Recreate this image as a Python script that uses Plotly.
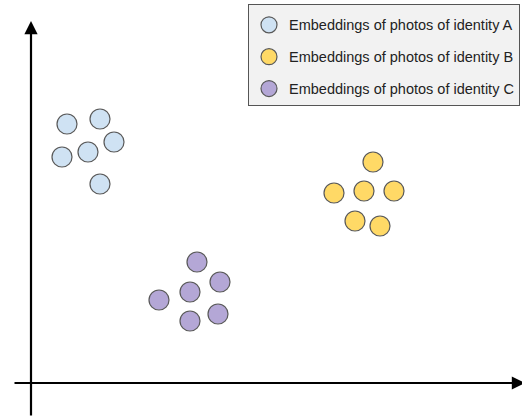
import plotly.graph_objects as go

# Data in chart coordinates (origin at axis crossing, units ~ pixels)
names = ["Embeddings of photos of identity A",
         "Embeddings of photos of identity B",
         "Embeddings of photos of identity C"]
a_x = [36, 69, 83, 57, 31, 69]
a_y = [259, 264, 241, 231, 226, 199]
b_x = [342, 303, 333, 363, 324, 349]
b_y = [221, 190, 192, 192, 162, 157]
c_x = [166, 189, 159, 128, 187, 159]
c_y = [121, 101, 91, 83, 69, 62]
colors = ["#cfe2f3", "#ffd966", "#b4a7d6"]

fig = go.Figure()
for i, (xs, ys) in enumerate([(a_x, a_y), (b_x, b_y), (c_x, c_y)]):
    fig.add_trace(go.Scatter(
        x=xs, y=ys, mode="markers", name=names[i], legendgroup=str(i),
        marker=dict(size=20, color=colors[i], line=dict(color="#595959", width=1.2)),
    ))

# Axes with arrows
fig.add_annotation(x=0, y=362, ax=0, ay=-34, xref="x", yref="y", axref="x", ayref="y",
                   showarrow=True, arrowhead=2, arrowsize=1.2, arrowwidth=2.2, arrowcolor="#000", text="")
fig.add_annotation(x=494, y=0, ax=-18, ay=0, xref="x", yref="y", axref="x", ayref="y",
                   showarrow=True, arrowhead=2, arrowsize=1.2, arrowwidth=2.2, arrowcolor="#000", text="")

fig.update_layout(
    width=522, height=417,
    margin=dict(l=0, r=0, t=0, b=0),
    plot_bgcolor="white", paper_bgcolor="white",
    xaxis=dict(range=[-31, 491], visible=False),
    yaxis=dict(range=[-34, 383], visible=False),
    font=dict(family="Liberation Sans, Arial, sans-serif", size=14.5, color="#222"),
    legend=dict(x=248/522, y=1 - 4/417, xanchor="left", yanchor="top",
                bgcolor="#f2f2f2", bordercolor="#555", borderwidth=1,
                tracegroupgap=10, itemsizing="trace",
                title=dict(text=" ", font=dict(size=3))),
    showlegend=True,
)

fig.write_html("out.html", include_plotlyjs=True, config={"displayModeBar": False},
               post_script="document.body.style.margin='0';")
